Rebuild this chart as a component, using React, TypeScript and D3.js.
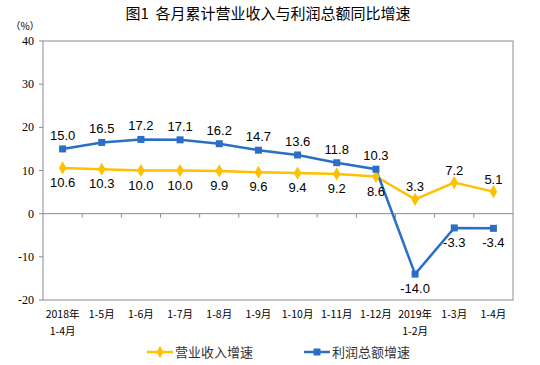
import React from "react";
import * as d3 from "d3";

const categories: string[][] = [
  ["2018年", "1-4月"], ["1-5月"], ["1-6月"], ["1-7月"], ["1-8月"], ["1-9月"],
  ["1-10月"], ["1-11月"], ["1-12月"], ["2019年", "1-2月"], ["1-3月"], ["1-4月"],
];
const revenue = [10.6, 10.3, 10.0, 10.0, 9.9, 9.6, 9.4, 9.2, 8.6, 3.3, 7.2, 5.1];
const profit = [15.0, 16.5, 17.2, 17.1, 16.2, 14.7, 13.6, 11.8, 10.3, -14.0, -3.3, -3.4];
const yTicks = [40, 30, 20, 10, 0, -10, -20];
const seriesNames = ["营业收入增速", "利润总额增速"];

const YELLOW = "#FFC000";
const BLUE = "#2A6EC6";

export default function App() {
  const W = 540, H = 365;
  const left = 43, right = 513, top = 41, bottom = 300;
  const x = d3.scaleBand<number>().domain(d3.range(categories.length)).range([left, right]);
  const cx = (i: number) => (x(i) as number) + x.bandwidth() / 2;
  const y = d3.scaleLinear().domain([-20, 40]).range([bottom, top]);
  const line = d3.line<number>().x((_, i) => cx(i)).y((d) => y(d));
  const fmt = (v: number) => v.toFixed(1);
  const cjk = "'Noto Sans CJK SC', sans-serif";
  const num = "'Liberation Sans', Arial, sans-serif";

  const revAbove = (i: number) => i >= 9;
  const profAbove = (i: number) => i < 9;

  return (
    <svg width={W} height={H} style={{ position: "absolute", left: 0, top: 0, background: "#fff" }}>
      <text x={268} y={19} textAnchor="middle" fontFamily={cjk} fontSize={15} fill="#000" style={{ whiteSpace: "pre" }}>
        {"图1  各月累计营业收入与利润总额同比增速"}
      </text>
      <text x={25} y={30} textAnchor="middle" fontFamily={cjk} fontSize={10} fill="#000">（%）</text>

      <rect x={left} y={top} width={right - left} height={bottom - top} fill="none" stroke="#8c8c8c" strokeWidth={1} />

      {yTicks.map((t) => (
        <g key={t}>
          <line x1={left - 4} x2={left} y1={y(t)} y2={y(t)} stroke="#8c8c8c" />
          <text x={34} y={y(t) + 4} textAnchor="end" fontFamily="'Liberation Serif', 'Times New Roman', serif" fontSize={12} fill="#000">
            {t}
          </text>
        </g>
      ))}

      <line x1={left} x2={right} y1={y(0)} y2={y(0)} stroke="#8c8c8c" />
      {d3.range(1, categories.length).map((i) => (
        <line key={i} x1={x(i) as number} x2={x(i) as number} y1={y(0)} y2={y(0) + 4} stroke="#8c8c8c" />
      ))}

      {categories.map((c, i) => (
        <text key={i} x={cx(i)} y={318} textAnchor="middle" fontFamily={cjk} fontSize={10.5} fill="#000">
          {c.map((s, k) => (
            <tspan key={k} x={cx(i)} dy={k === 0 ? 0 : 17}>{s}</tspan>
          ))}
        </text>
      ))}

      <path d={line(revenue) || ""} fill="none" stroke={YELLOW} strokeWidth={2.5} />
      <path d={line(profit) || ""} fill="none" stroke={BLUE} strokeWidth={2.5} />

      {revenue.map((v, i) => (
        <path key={i} d={d3.symbol(d3.symbolDiamond, 50)() || ""} transform={`translate(${cx(i)},${y(v)})`} fill={YELLOW} />
      ))}
      {profit.map((v, i) => (
        <rect key={i} x={cx(i) - 3.5} y={y(v) - 3.5} width={7} height={7} fill={BLUE} />
      ))}

      {revenue.map((v, i) => (
        <text key={i} x={cx(i)} y={revAbove(i) ? y(v) - 8 : y(v) + 19} textAnchor="middle" fontFamily={num} fontSize={13} fill="#000">
          {fmt(v)}
        </text>
      ))}
      {profit.map((v, i) => (
        <text key={i} x={cx(i)} y={profAbove(i) ? y(v) - 9 : y(v) + 19} textAnchor="middle" fontFamily={num} fontSize={13} fill="#000">
          {fmt(v)}
        </text>
      ))}

      <line x1={147} x2={173} y1={352} y2={352} stroke={YELLOW} strokeWidth={2.5} />
      <path d={d3.symbol(d3.symbolDiamond, 40)() || ""} transform="translate(160,352)" fill={YELLOW} />
      <text x={175} y={357} fontFamily={cjk} fontSize={13} fill="#333">{seriesNames[0]}</text>
      <line x1={304} x2={330} y1={352} y2={352} stroke={BLUE} strokeWidth={2.5} />
      <rect x={313.5} y={348.5} width={7} height={7} fill={BLUE} />
      <text x={332} y={357} fontFamily={cjk} fontSize={13} fill="#333">{seriesNames[1]}</text>
    </svg>
  );
}
